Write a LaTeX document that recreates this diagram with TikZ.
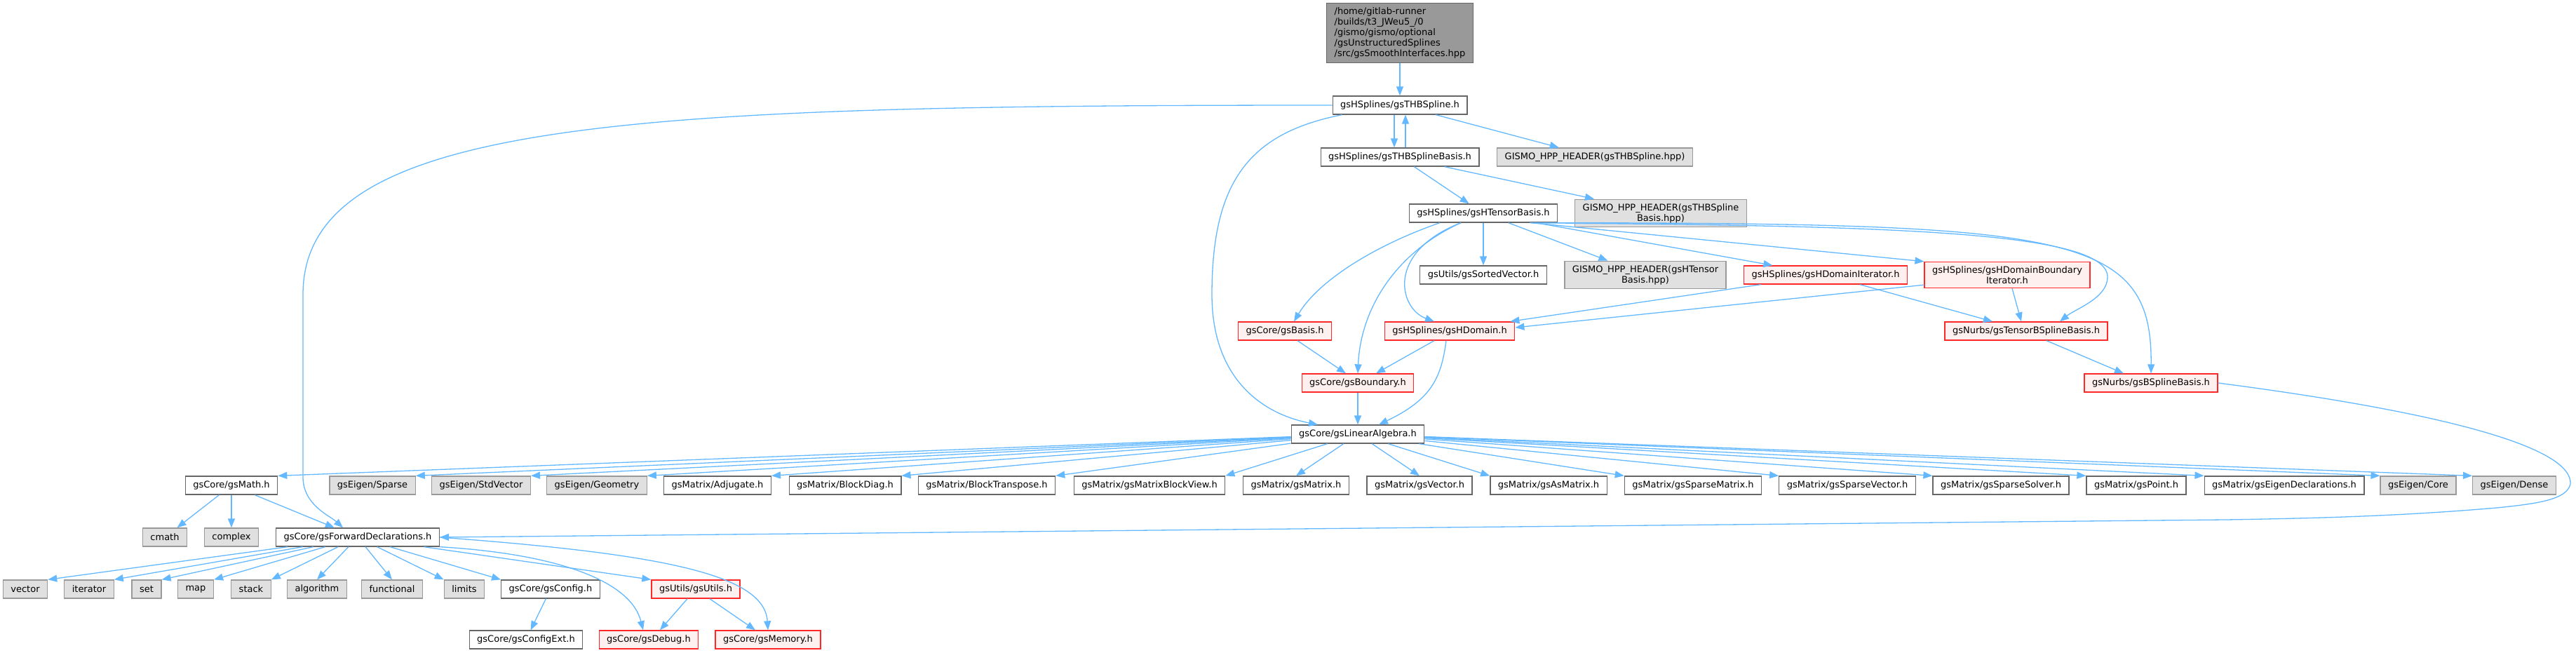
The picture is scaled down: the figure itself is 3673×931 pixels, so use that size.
\documentclass[tikz,border=0pt]{standalone}
\usepackage{fontspec}
\setmainfont{DejaVu Sans}
\usetikzlibrary{
    arrows.meta
}
\tikzset{
  filebox/.style = {draw=dxGrey, fill=white, line width=1.3pt,
                    minimum height=26pt, inner xsep=11pt, inner ysep=6pt,
                    align=center, font=\fontsize{13}{15}\selectfont},
  extbox/.style  = {filebox, draw=dxLight, fill=dxFill},
  redbox/.style  = {filebox, draw=dxRed, fill=dxPink},
  rootbox/.style = {filebox, fill=dxDark, align=left},
  incl/.style    = {-{Triangle[length=13pt,width=10pt]}, dxBlue, line width=1.3pt}
}
\definecolor{dxGrey}{RGB}{102,102,102}
\definecolor{dxLight}{RGB}{153,153,153}
\definecolor{dxFill}{RGB}{224,224,224}
\definecolor{dxDark}{RGB}{153,153,153}
\definecolor{dxRed}{RGB}{255,40,40}
\definecolor{dxPink}{RGB}{255,240,240}
\definecolor{dxBlue}{RGB}{99,184,255}

\begin{document}
\begin{tikzpicture}[x=1pt,y=1pt]
\useasboundingbox (0,0) rectangle (3673,-931);

\node[rootbox] (root) at (1996,-47) {/home/gitlab-runner\\/builds/t3\_JWeu5\_/0\\/gismo/gismo/optional\\/gsUnstructuredSplines\\/src/gsSmoothInterfaces.hpp};
\node[filebox] (thb)   at (1996,-150) {gsHSplines/gsTHBSpline.h};
\node[filebox] (thbb)  at (1996,-224) {gsHSplines/gsTHBSplineBasis.h};
\node[extbox]  (hppA)  at (2274,-224) {GISMO\_HPP\_HEADER(gsTHBSpline.hpp)};
\node[filebox] (htb)   at (2115,-304) {gsHSplines/gsHTensorBasis.h};
\node[extbox]  (hppB)  at (2368,-304) {GISMO\_HPP\_HEADER(gsTHBSpline\\Basis.hpp)};
\node[filebox] (sortv) at (2115,-392) {gsUtils/gsSortedVector.h};
\node[extbox]  (hppC)  at (2346,-392) {GISMO\_HPP\_HEADER(gsHTensor\\Basis.hpp)};
\node[redbox]  (hdit)  at (2603,-392) {gsHSplines/gsHDomainIterator.h};
\node[redbox]  (hdbit) at (2862,-392) {gsHSplines/gsHDomainBoundary\\Iterator.h};
\node[redbox]  (basis) at (1832,-472) {gsCore/gsBasis.h};
\node[redbox]  (hdom)  at (2067,-472) {gsHSplines/gsHDomain.h};
\node[redbox]  (tbsb)  at (2889,-472) {gsNurbs/gsTensorBSplineBasis.h};
\node[redbox]  (bnd)   at (1936,-546) {gsCore/gsBoundary.h};
\node[redbox]  (bsb)   at (3067,-546) {gsNurbs/gsBSplineBasis.h};
\node[filebox] (la)    at (1936,-619) {gsCore/gsLinearAlgebra.h};

\node[filebox] (math)    at (330,-692)  {gsCore/gsMath.h};
\node[extbox]  (esparse) at (531,-692)  {gsEigen/Sparse};
\node[extbox]  (estd)    at (686,-692)  {gsEigen/StdVector};
\node[extbox]  (egeo)    at (851,-692)  {gsEigen/Geometry};
\node[filebox] (adj)     at (1023,-692) {gsMatrix/Adjugate.h};
\node[filebox] (bdiag)   at (1205,-692) {gsMatrix/BlockDiag.h};
\node[filebox] (btrans)  at (1407,-692) {gsMatrix/BlockTranspose.h};
\node[filebox] (mbv)     at (1639,-692) {gsMatrix/gsMatrixBlockView.h};
\node[filebox] (mat)     at (1848,-692) {gsMatrix/gsMatrix.h};
\node[filebox] (vec)     at (2024,-692) {gsMatrix/gsVector.h};
\node[filebox] (asmat)   at (2208,-692) {gsMatrix/gsAsMatrix.h};
\node[filebox] (smat)    at (2414,-692) {gsMatrix/gsSparseMatrix.h};
\node[filebox] (svec)    at (2634,-692) {gsMatrix/gsSparseVector.h};
\node[filebox] (ssolv)   at (2853,-692) {gsMatrix/gsSparseSolver.h};
\node[filebox] (pnt)     at (3046,-692) {gsMatrix/gsPoint.h};
\node[filebox] (eidecl)  at (3257,-692) {gsMatrix/gsEigenDeclarations.h};
\node[extbox]  (ecore)   at (3448,-692) {gsEigen/Core};
\node[extbox]  (edense)  at (3585,-692) {gsEigen/Dense};

\node[extbox]  (cmath) at (235,-766) {cmath};
\node[extbox]  (cplx)  at (330,-766) {complex};
\node[filebox] (fwd)   at (510,-766) {gsCore/gsForwardDeclarations.h};

\node[extbox]  (vector)   at (36,-840)  {vector};
\node[extbox]  (iterator) at (127,-840) {iterator};
\node[extbox]  (set)      at (209,-840) {set};
\node[extbox]  (map)      at (279,-840) {map};
\node[extbox]  (stack)    at (358,-840) {stack};
\node[extbox]  (algo)     at (452,-840) {algorithm};
\node[extbox]  (func)     at (559,-840) {functional};
\node[extbox]  (limits)   at (662,-840) {limits};
\node[filebox] (config)   at (785,-840) {gsCore/gsConfig.h};
\node[redbox]  (utils)    at (992,-840) {gsUtils/gsUtils.h};

\node[filebox] (cfgext) at (750,-912)  {gsCore/gsConfigExt.h};
\node[redbox]  (debug)  at (925,-912)  {gsCore/gsDebug.h};
\node[redbox]  (memory) at (1095,-912) {gsCore/gsMemory.h};

\coordinate (wA) at (1728,-420);
\coordinate (wB) at (432,-420);
\coordinate (wC) at (432,-680);
\coordinate (wD) at (3005,-395);
\coordinate (wE) at (3665,-690);
\coordinate (wF) at (3173,-741);

\draw[incl] (root) -- (thb);
\draw[incl] ([xshift=-8pt]thb.south) -- ([xshift=-8pt]thbb.north);
\draw[incl] ([xshift=8pt]thbb.north) -- ([xshift=8pt]thb.south);
\draw[incl] (thb) -- (hppA);
\draw[incl] ([xshift=14pt]thb.south west) .. controls (1780,-190) and (1728,-260) .. (wA)
            .. controls (1728,-540) and (1800,-590) .. ([xshift=-57pt]la.north);
\draw[incl] (thb.west) .. controls (900,-150) and (432,-170) .. (wB) -- (wC)
            .. controls (432,-720) and (470,-735) .. ([xshift=-21pt]fwd.north);
\draw[incl] (thbb) -- (htb);
\draw[incl] (thbb) -- (hppB);

\draw[incl] (htb) -- (sortv);
\draw[incl] (htb) -- (hppC);
\draw[incl] (htb) -- (hdit);
\draw[incl] ([xshift=68pt]htb.south) -- (hdbit.north west);
\draw[incl] ([xshift=66pt]htb.south) .. controls (2700,-322) and (3005,-330) .. (wD)
            .. controls (3005,-425) and (2960,-440) .. ([xshift=48pt]tbsb.north);
\draw[incl] ([xshift=70pt]htb.south) .. controls (2950,-318) and (3069,-330) .. (bsb.north);
\draw[incl] ([xshift=-32pt]htb.south) .. controls (1975,-360) and (1995,-440) .. ([xshift=-22pt]hdom.north);
\draw[incl] ([xshift=-32pt]htb.south) .. controls (1990,-360) and (1940,-440) .. (bnd.north);
\draw[incl] ([xshift=-62pt]htb.south) .. controls (1960,-350) and (1880,-400) .. ([xshift=13pt]basis.north);

\draw[incl] (hdit) -- ([xshift=-7pt]hdom.north east);
\draw[incl] (hdit) -- ([xshift=-48pt]tbsb.north);
\draw[incl] ([yshift=5pt]hdbit.south west) -- ([yshift=5pt]hdom.east);
\draw[incl] ([xshift=7pt]hdbit.south) -- ([xshift=-7pt]tbsb.north);
\draw[incl] ([xshift=-22pt]hdom.south) -- ([xshift=26pt]bnd.north);
\draw[incl] ([xshift=-5pt]hdom.south) .. controls (2055,-540) and (2040,-570) .. ([xshift=30pt]la.north);
\draw[incl] ([xshift=18pt]basis.south) -- ([xshift=-17pt]bnd.north);
\draw[incl] (bnd) -- (la);
\draw[incl] ([xshift=29pt]tbsb.south) -- ([xshift=-39pt]bsb.north);
\draw[incl] (bsb.east) .. controls (3500,-590) and (3668,-640) .. (wE)
            .. controls (3660,-712) and (3620,-718) .. (3560,-724)
            .. controls (3420,-736) and (3300,-739) .. (wF) -- (fwd.east);

\foreach \t/\a in {math/north east, esparse/north east, estd/north east, egeo/north east,
                   adj/north east, bdiag/north east, btrans/north east, mbv/north east,
                   mat/north, vec/north, asmat/north west, smat/north west, svec/north west,
                   ssolv/north west, pnt/north west, eidecl/north west, ecore/north west,
                   edense/north west}
  \draw[incl] (la) -- (\t.\a);

\draw[incl] (math) -- (cmath);
\draw[incl] (math) -- (cplx);
\draw[incl] (math) -- (fwd);

\foreach \t/\a in {vector/north east, iterator/north east, set/north east, map/north east,
                   stack/north east, algo/north, func/north, limits/north west,
                   config/north west, utils/north west}
  \draw[incl] (fwd) -- (\t.\a);
\draw[incl] (fwd.south east) .. controls (800,-790) and (900,-830) .. ([xshift=-8pt]debug.north);
\draw[incl] (fwd.east) .. controls (950,-790) and (1090,-820) .. (memory.north);
\draw[incl] (config) -- (cfgext);
\draw[incl] (utils) -- ([xshift=16pt]debug.north);
\draw[incl] (utils) -- ([xshift=-18pt]memory.north);
\end{tikzpicture}
\end{document}
